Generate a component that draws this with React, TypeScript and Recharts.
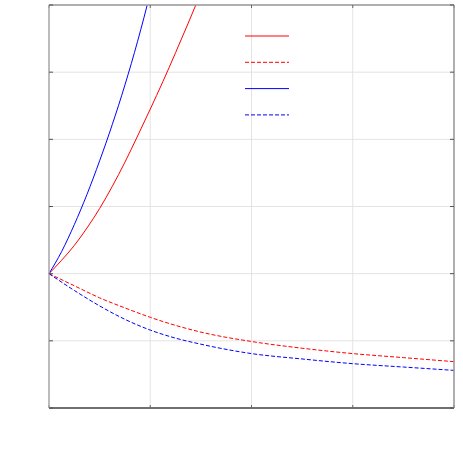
import { LineChart, Line, XAxis, YAxis, CartesianGrid } from "recharts"

const xs = [0, 0.125, 0.25, 0.375, 0.5, 0.625, 0.75, 0.875, 1, 1.125, 1.25, 1.375, 1.5, 2, 2.5, 3, 3.5, 4]
const redSolid = [0, 0.2, 0.42, 0.68, 0.97, 1.3, 1.66, 2.05, 2.45, 2.86, 3.29, 3.73, 4.18, null, null, null, null, null]
const redDashed = [0, null, -0.18, null, -0.36, null, -0.51, null, -0.65, null, -0.77, null, -0.87, -1.01, -1.11, -1.19, -1.25, -1.31]
const blueSolid = [0, 0.33, 0.73, 1.18, 1.68, 2.22, 2.81, 3.46, 4.18, 4.98, null, null, null, null, null, null, null, null]
const blueDashed = [0, null, -0.25, null, -0.48, null, -0.68, null, -0.84, null, -0.96, null, -1.05, -1.19, -1.27, -1.34, -1.39, -1.44]
const xTicks = [0, 1, 2, 3, 4]
const yTicks = [-2, -1, 0, 1, 2, 3, 4]

const data = xs.map((x, i) => ({
  x,
  rs: redSolid[i],
  rd: redDashed[i],
  bs: blueSolid[i],
  bd: blueDashed[i]
}))

const series = [
  { key: "rs", color: "#ff0000", dash: undefined },
  { key: "rd", color: "#ff0000", dash: "4 2" },
  { key: "bs", color: "#0000ff", dash: undefined },
  { key: "bd", color: "#0000ff", dash: "4 2" }
]

// only the tick marks, no labels
const NoLabel = () => <g />

export default function App() {
  return (
    <div style={{ position: "absolute", left: 0, top: 0, background: "#fff" }}>
      <LineChart
        width={463}
        height={452}
        data={data}
        margin={{ top: 5, right: 9, bottom: 44, left: 49 }}
      >
        <CartesianGrid stroke="#e3e3e3" strokeWidth={1} />
        <XAxis
          dataKey="x"
          type="number"
          domain={[0, 4]}
          ticks={xTicks}
          tick={NoLabel}
          mirror
          tickSize={3}
          axisLine={{ stroke: "#444", strokeWidth: 1.5 }}
          tickLine={{ stroke: "#666" }}
        />
        <XAxis
          xAxisId="top"
          orientation="top"
          dataKey="x"
          type="number"
          domain={[0, 4]}
          ticks={xTicks}
          tick={NoLabel}
          mirror
          tickSize={3}
          axisLine={{ stroke: "#999", strokeWidth: 1.5 }}
          tickLine={{ stroke: "#666" }}
        />
        <YAxis
          type="number"
          domain={[-2, 4]}
          ticks={yTicks}
          allowDataOverflow
          tick={NoLabel}
          mirror
          tickSize={4}
          axisLine={{ stroke: "#aaa", strokeWidth: 1.5 }}
          tickLine={{ stroke: "#555" }}
        />
        <YAxis
          yAxisId="right"
          orientation="right"
          type="number"
          domain={[-2, 4]}
          ticks={yTicks}
          allowDataOverflow
          tick={NoLabel}
          mirror
          tickSize={4}
          axisLine={{ stroke: "#999", strokeWidth: 1.5 }}
          tickLine={{ stroke: "#555" }}
        />
        {series.map((s) => (
          <Line
            key={s.key}
            dataKey={s.key}
            type="monotone"
            stroke={s.color}
            strokeWidth={1}
            strokeDasharray={s.dash}
            dot={false}
            activeDot={false}
            connectNulls
            isAnimationActive={false}
          />
        ))}
      </LineChart>
      <svg
        width={50}
        height={90}
        style={{ position: "absolute", left: 245, top: 28 }}
      >
        {series.map((s, i) => (
          <line
            key={s.key}
            x1={0}
            x2={44}
            y1={8 + i * 26.3}
            y2={8 + i * 26.3}
            stroke={s.color}
            strokeWidth={1}
            strokeDasharray={s.dash}
          />
        ))}
      </svg>
    </div>
  )
}
